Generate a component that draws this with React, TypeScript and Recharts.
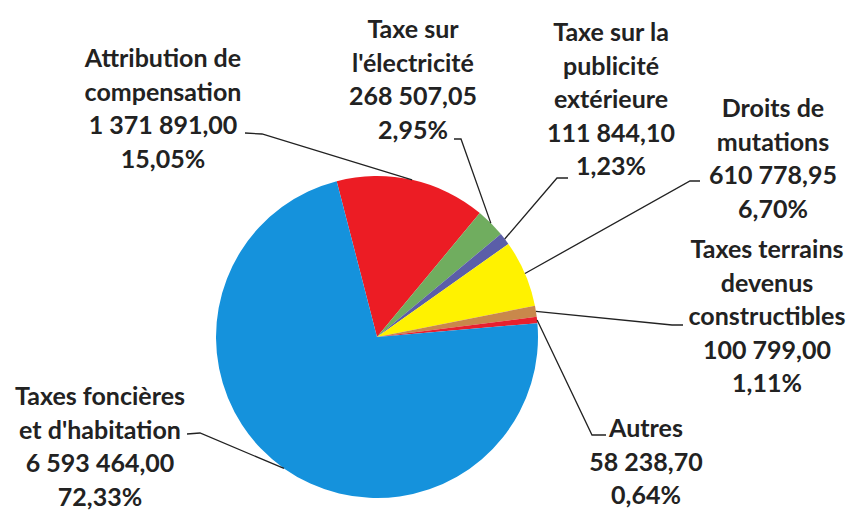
import React from "react";
import { PieChart, Pie, Cell } from "recharts";

// slices in drawing order (clockwise from just left of 12 o'clock)
const names = [
  ["Attribution de", "compensation"],
  ["Taxe sur", "l'électricité"],
  ["Taxe sur la", "publicité", "extérieure"],
  ["Droits de", "mutations"],
  ["Taxes terrains", "devenus", "constructibles"],
  ["Autres"],
  ["Taxes foncières", "et d'habitation"],
];
const values = [1371891.0, 268507.05, 111844.1, 610778.95, 100799.0, 58238.7, 6593464.0];
const colors = ["#EC1C24", "#70AD5F", "#5B5EA8", "#FFF200", "#C9884B", "#E8202E", "#1592DC"];

// label placement: text centre x, first line centre y, leader end points
const labelPos = [
  { x: 163, y: 57, leader: [[245, 133], [262, 134]] },
  { x: 413, y: 28, leader: [[454, 139], [461, 139]] },
  { x: 611, y: 31, leader: [[568, 178], [557, 178]] },
  { x: 773, y: 107, leader: [[700, 181], [690, 181]] },
  { x: 767, y: 248, leader: [[683, 325], [672, 325]] },
  { x: 646, y: 427, leader: [[606, 435], [592, 435]] },
  { x: 100, y: 395, leader: [[187, 434], [200, 433]] },
];

const data = names.map((n, i) => ({ name: n.join(" "), value: values[i] }));

function frNumber(v: number) {
  const [int, dec] = v.toFixed(2).split(".");
  return int.replace(/\B(?=(\d{3})+(?!\d))/g, " ") + "," + dec;
}

const RAD = Math.PI / 180;

function renderLabel(props: any) {
  const { cx, cy, midAngle, outerRadius, index, percent } = props;
  const pos = labelPos[index];
  const ex = cx + outerRadius * Math.cos(-midAngle * RAD);
  const ey = cy + outerRadius * Math.sin(-midAngle * RAD);
  const pts = [...pos.leader, [ex, ey]].map((p) => p.join(",")).join(" ");
  const lines = [
    ...names[index],
    frNumber(values[index]),
    (percent * 100).toFixed(2).replace(".", ",") + "%",
  ];
  return (
    <g key={`lbl-${index}`}>
      <polyline points={pts} fill="none" stroke="#222" strokeWidth={1.3} />
      {lines.map((t, j) => (
        <text
          key={j}
          x={pos.x}
          y={pos.y + j * 33.5}
          textAnchor="middle"
          dominantBaseline="central"
          fill="#222"
          fontFamily="Lato, 'Open Sans', sans-serif"
          fontWeight={700}
          fontSize={25}
        >
          {t}
        </text>
      ))}
    </g>
  );
}

export default function App() {
  return (
    <div style={{ position: "absolute", left: 0, top: 0, background: "#fff" }}>
      <PieChart width={853} height={510}>
        <Pie
          data={data}
          dataKey="value"
          cx={372}
          cy={332}
          outerRadius={161}
          startAngle={104.5}
          endAngle={-255.5}
          stroke="none"
          labelLine={false}
          label={renderLabel}
          isAnimationActive={false}
        >
          {data.map((d, i) => (
            <Cell key={d.name} fill={colors[i]} />
          ))}
        </Pie>
      </PieChart>
    </div>
  );
}
